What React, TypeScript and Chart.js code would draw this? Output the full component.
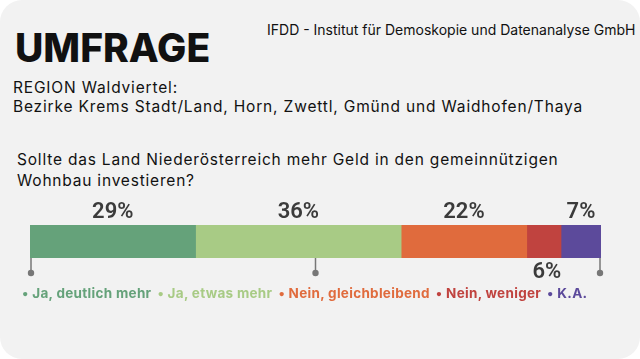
import React, { useEffect, useRef } from "react";
import { Chart, registerables } from "chart.js";

Chart.register(...registerables);

const categories = ["Ja, deutlich mehr", "Ja, etwas mehr", "Nein, gleichbleibend", "Nein, weniger", "K.A."];
const values = [29, 36, 22, 6, 7];
const colors = ["#65a27a", "#a8cb85", "#e06b3d", "#c0433f", "#5c4a9b"];
const labelBelow = [false, false, false, true, false];
const tickValues = [0, 50, 100];

const FONT = "Inter, 'Noto Sans', sans-serif";
const NUM_FONT = "Roboto, Inter, sans-serif";

export default function App() {
  const ref = useRef<HTMLCanvasElement | null>(null);

  useEffect(() => {
    if (!ref.current) return;
    const labelsPlugin = {
      id: "segLabels",
      afterDatasetsDraw(chart: any) {
        const ctx = chart.ctx;
        ctx.save();
        ctx.font = `600 22px ${NUM_FONT}`;
        ctx.fillStyle = "#3b3b3b";
        ctx.textAlign = "center";
        ctx.textBaseline = "alphabetic";
        chart.data.datasets.forEach((ds: any, i: number) => {
          const meta = chart.getDatasetMeta(i);
          const el = meta.data[0];
          if (!el) return;
          const props = el.getProps(["x", "base", "y", "height"], true);
          const cx = (props.x + props.base) / 2 + (labelBelow[i] ? 3 : 0);
          const top = props.y - props.height / 2;
          const bottom = props.y + props.height / 2;
          const y = labelBelow[i] ? bottom + 20 : top - 7;
          ctx.fillText(`${ds.data[0]}%`, cx, y);
        });
        ctx.restore();
      },
      afterDraw(chart: any) {
        const ctx = chart.ctx;
        const xs = chart.scales.x;
        const area = chart.chartArea;
        ctx.save();
        ctx.strokeStyle = "#777777";
        ctx.fillStyle = "#777777";
        ctx.lineWidth = 1.5;
        tickValues.forEach((v) => {
          let x = xs.getPixelForValue(v);
          x = Math.max(area.left + 1, Math.min(area.right - 1, x));
          ctx.beginPath();
          ctx.moveTo(x, area.bottom);
          ctx.lineTo(x, area.bottom + 15);
          ctx.stroke();
          ctx.beginPath();
          ctx.arc(x, area.bottom + 15, 3.2, 0, Math.PI * 2);
          ctx.fill();
        });
        ctx.restore();
      },
    };

    const chart = new Chart(ref.current, {
      type: "bar",
      data: {
        labels: [""],
        datasets: categories.map((c, i) => ({
          label: c,
          data: [values[i]],
          backgroundColor: colors[i],
          borderWidth: 0,
          barPercentage: 1,
          categoryPercentage: 1,
        })),
      },
      options: {
        indexAxis: "y",
        animation: false,
        responsive: false,
        maintainAspectRatio: false,
        layout: { padding: { left: 30, right: 39, top: 35, bottom: 32 } },
        scales: {
          x: { stacked: true, min: 0, max: 100, display: false },
          y: { stacked: true, display: false },
        },
        plugins: { legend: { display: false }, tooltip: { enabled: false } },
      },
      plugins: [labelsPlugin],
    });
    return () => chart.destroy();
  }, []);

  return (
    <div style={{ position: "absolute", left: 0, top: 0, width: 640, height: 359, background: "#ffffff", overflow: "hidden", fontFamily: FONT }}>
      <div style={{ position: "absolute", left: 0, top: 0, width: 640, height: 359, background: "#f2f2f2", borderRadius: 22 }} />
      <div style={{ position: "absolute", left: 15, top: 24, fontSize: 39, fontWeight: 800, color: "#111", lineHeight: "48px", whiteSpace: "nowrap" }}>UMFRAGE</div>
      <div style={{ position: "absolute", left: 267, top: 21, fontSize: 14, color: "#111", lineHeight: "18px", whiteSpace: "nowrap" }}>IFDD - Institut für Demoskopie und Datenanalyse GmbH</div>
      <div style={{ position: "absolute", left: 13, top: 78, fontSize: 15.5, color: "#111", lineHeight: "19px", letterSpacing: 0.83, whiteSpace: "nowrap" }}>
        REGION Waldviertel:<br />Bezirke Krems Stadt/Land, Horn, Zwettl, Gmünd und Waidhofen/Thaya
      </div>
      <div style={{ position: "absolute", left: 17, top: 149, fontSize: 15.5, color: "#111", lineHeight: "21px", letterSpacing: 0.8, whiteSpace: "nowrap" }}>
        Sollte das Land Niederösterreich mehr Geld in den gemeinnützigen<br />Wohnbau investieren?
      </div>
      <canvas ref={ref} width={640} height={100} style={{ position: "absolute", left: 0, top: 190, width: 640, height: 100 }} />
      <div style={{ position: "absolute", left: 22, top: 284, fontSize: 13.5, fontWeight: 700, lineHeight: "18px", letterSpacing: 0.3, whiteSpace: "nowrap" }}>
        {categories.map((c, i) => (
          <span key={c} style={{ color: colors[i], marginRight: 6 }}>• {c}</span>
        ))}
      </div>
    </div>
  );
}
